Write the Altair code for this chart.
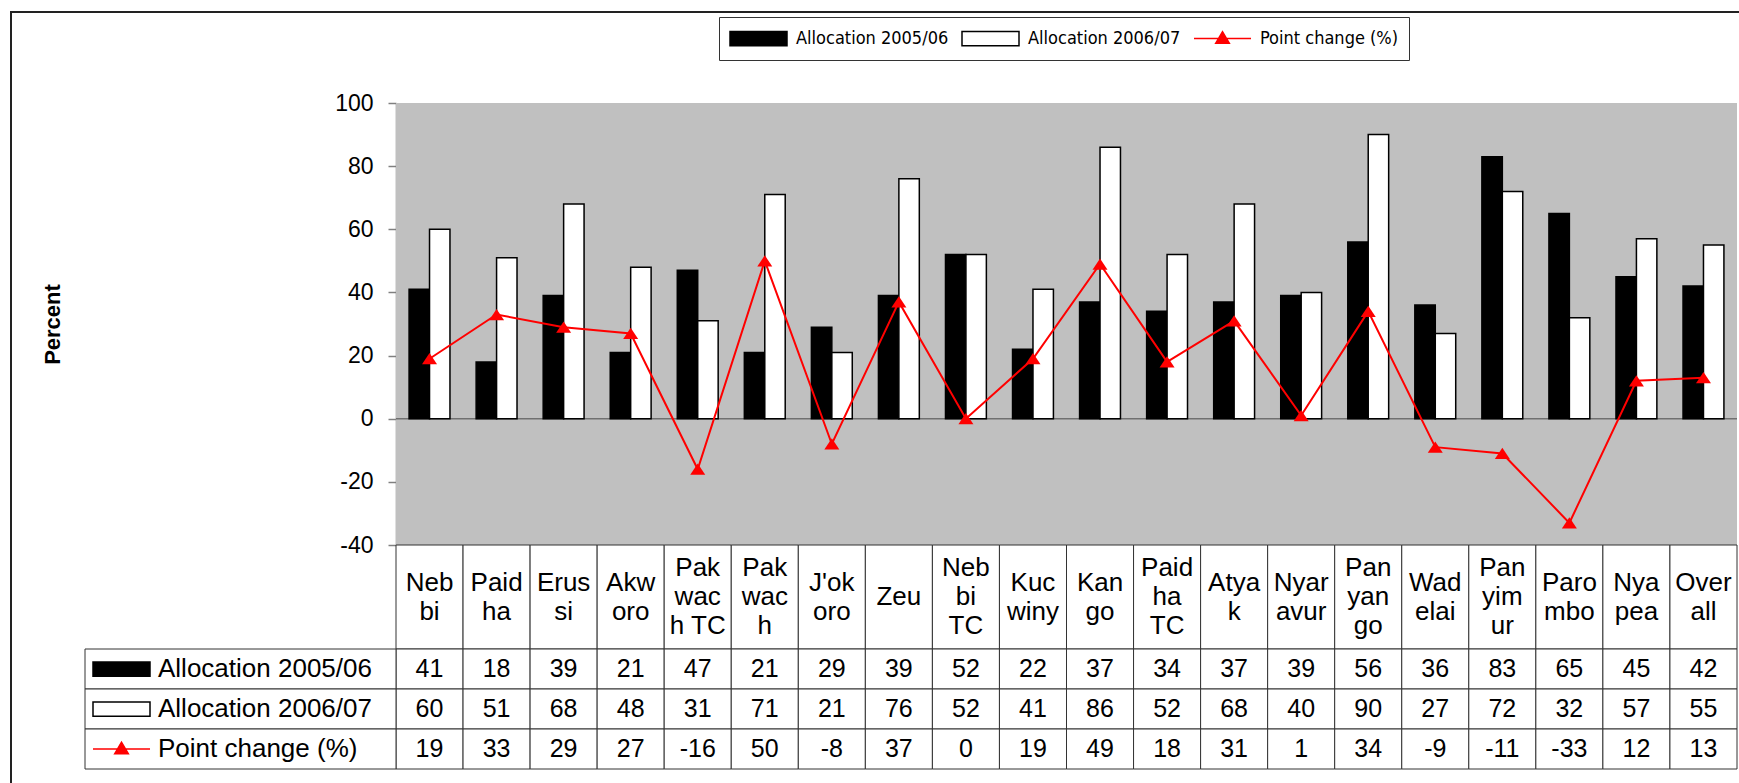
import altair as alt
import pandas as pd

# ---------------- data ----------------
categories = ["Neb\nbi", "Paid\nha", "Erus\nsi", "Akw\noro", "Pak\nwac\nh TC",
              "Pak\nwac\nh", "J'ok\noro", "Zeu", "Neb\nbi\nTC", "Kuc\nwiny",
              "Kan\ngo", "Paid\nha\nTC", "Atya\nk", "Nyar\navur", "Pan\nyan\ngo",
              "Wad\nelai", "Pan\nyim\nur", "Paro\nmbo", "Nya\npea", "Over\nall"]
alloc_0506 = [41, 18, 39, 21, 47, 21, 29, 39, 52, 22, 37, 34, 37, 39, 56, 36, 83, 65, 45, 42]
alloc_0607 = [60, 51, 68, 48, 31, 71, 21, 76, 52, 41, 86, 52, 68, 40, 90, 27, 72, 32, 57, 55]
point_change = [19, 33, 29, 27, -16, 50, -8, 37, 0, 19, 49, 18, 31, 1, 34, -9, -11, -33, 12, 13]
series_names = ["Allocation 2005/06", "Allocation 2006/07", "Point change (%)"]
y_ticks = [-40, -20, 0, 20, 40, 60, 80, 100]

# ---------------- layout constants ----------------
W, H = 1341, 666          # view: plot + table below
PLOT_H = 442              # plot area height
HEAD_BOTTOM = 546         # bottom of the category header row
LINE_H = 29
FONT = "Liberation Sans, Arial, sans-serif"
NARROW = "DejaVu Sans Condensed, Liberation Sans, sans-serif"

RECT_SYM = "M-1,-0.25H1V0.25H-1Z"
LINE_SYM = "M-1,0H1M-0.24,0.17L0,-0.24L0.24,0.17Z"
TRI = "M0,-0.75L1,0.75L-1,0.75Z"

bars_df = pd.DataFrame({
    "cat": categories * 2,
    "series": [series_names[0]] * len(categories) + [series_names[1]] * len(categories),
    "value": alloc_0506 + alloc_0607,
})
line_df = pd.DataFrame({"cat": categories, "value": point_change})
table_df = pd.DataFrame({
    "cat": categories * 3,
    "row": sum([[s] * len(categories) for s in series_names], []),
    "label": [str(v) for v in alloc_0506 + alloc_0607 + point_change],
})
cat_df = pd.DataFrame({"cat": categories, "nlines": [c.count("\n") + 1 for c in categories]})
rows_df = pd.DataFrame({"row": series_names})
one_df = pd.DataFrame({"k": [0]})

x_enc = alt.X("cat:N", scale=alt.Scale(domain=categories, paddingInner=0, paddingOuter=0), axis=None)
y_scale = alt.Scale(domain=[-40, 100], range=[PLOT_H, 0], nice=False, zero=False)
y_axis = alt.Axis(values=y_ticks, grid=False, tickSize=8, tickWidth=1.5, tickColor="#808080",
                  domainColor="#808080", domainWidth=1.5, labelFont=FONT, labelFontSize=23,
                  labelColor="black", labelPadding=15, labelExpr="'' + datum.value",
                  title="Percent", titleFont=FONT, titleFontSize=22, titleFontWeight="bold",
                  titleColor="black", titleAngle=270, titleX=-344, titleY=PLOT_H / 2,
                  titleAlign="center", titleBaseline="middle")
row_enc = alt.Y("row:N", scale=alt.Scale(domain=series_names, range=[HEAD_BOTTOM, H],
                                          paddingInner=0, paddingOuter=0), axis=None)

# ---------------- frame ----------------
frame = alt.Chart(one_df).mark_rect(fill="transparent", stroke="#222", strokeWidth=2).encode(
    x=alt.value(-385), x2=alt.value(W + 60), y=alt.value(-91), y2=alt.value(H + 60))

# ---------------- plot ----------------
bg = alt.Chart(one_df).mark_rect(fill="#C0C0C0").encode(
    x=alt.value(0), x2=alt.value(W), y=alt.value(0), y2=alt.value(PLOT_H))
zero = alt.Chart(one_df).mark_rule(color="#707070", strokeWidth=1.5).encode(
    y=alt.datum(0, scale=y_scale, axis=y_axis), x=alt.value(0), x2=alt.value(W))
bars = alt.Chart(bars_df).mark_bar(stroke="black", strokeWidth=1.5).encode(
    x=x_enc,
    xOffset=alt.XOffset("series:N", scale=alt.Scale(domain=series_names[:2], paddingOuter=0.64, paddingInner=0)),
    y=alt.Y("value:Q", scale=y_scale, axis=y_axis),
    color=alt.Color("series:N", scale=alt.Scale(domain=series_names[:2], range=["black", "white"]), legend=None),
)
line = alt.Chart(line_df).mark_line(color="#FF0000", strokeWidth=2).encode(
    x=x_enc, y=alt.Y("value:Q", scale=y_scale, axis=y_axis))
pts = alt.Chart(line_df).mark_point(shape=TRI, filled=True, color="#FF0000", size=225, opacity=1).encode(
    x=x_enc, y=alt.Y("value:Q", scale=y_scale, axis=y_axis))
plot = alt.layer(bg, zero, bars, line, pts)

# ---------------- data table ----------------
head_rect = alt.Chart(cat_df).mark_rect(fill="white", stroke="#333", strokeWidth=1).encode(
    x=x_enc, y=alt.value(PLOT_H), y2=alt.value(HEAD_BOTTOM))
head_texts = []
for k in (1, 2, 3):
    head_texts.append(
        alt.Chart(cat_df).transform_filter(alt.datum.nlines == k).mark_text(
            font=FONT, fontSize=26, lineBreak="\n", lineHeight=LINE_H, baseline="middle",
            color="black", dy=-(k - 1) * LINE_H / 2).encode(
            x=x_enc, y=alt.value((PLOT_H + HEAD_BOTTOM) / 2), text="cat:N"))
cell_rect = alt.Chart(table_df).mark_rect(fill="white", stroke="#333", strokeWidth=1).encode(
    x=x_enc, y=row_enc)
cell_text = alt.Chart(table_df).mark_text(font=FONT, fontSize=25, baseline="middle", color="black").encode(
    x=x_enc, y=row_enc, text="label:N")
label_rect = alt.Chart(rows_df).mark_rect(fill="white", stroke="#333", strokeWidth=1).encode(
    x=alt.value(-311), x2=alt.value(0), y=row_enc)
label_text = alt.Chart(rows_df).mark_text(font=FONT, fontSize=26, baseline="middle", align="left",
                                          color="black").encode(
    x=alt.value(-238), y=row_enc, text="row:N")

legend_def = alt.Legend(title=None, orient="none", legendX=323, legendY=-86, direction="horizontal",
                        symbolSize=3249, clipHeight=23, labelFont=NARROW, labelFontSize=18,
                        labelOffset=8, columnPadding=12, padding=10, strokeColor="#333",
                        fillColor="white", labelLimit=400, symbolStrokeWidth=1.5, labelColor="black")
sym_scale_dom = series_names
label_sym = alt.Chart(rows_df).mark_point(filled=True, opacity=1, size=3249, strokeWidth=1.5).encode(
    x=alt.value(-274.5), y=row_enc,
    shape=alt.Shape("row:N", scale=alt.Scale(domain=sym_scale_dom, range=[RECT_SYM, RECT_SYM, LINE_SYM]), legend=legend_def),
    fill=alt.Fill("row:N", scale=alt.Scale(domain=sym_scale_dom, range=["black", "white", "#FF0000"]), legend=legend_def),
    stroke=alt.Stroke("row:N", scale=alt.Scale(domain=sym_scale_dom, range=["black", "black", "#FF0000"]), legend=legend_def),
)
table = alt.layer(head_rect, *head_texts, cell_rect, cell_text, label_rect, label_text, label_sym)

chart = alt.layer(frame, plot, table).resolve_scale(y="independent").properties(
    width=W, height=H,
    autosize=alt.AutoSizeParams(type="none"),
    padding={"left": 396, "top": 103, "right": 2, "bottom": 14},
    background="white",
).configure_view(stroke=None)

chart.save("out.html", embed_options={"renderer": "svg", "actions": False})
